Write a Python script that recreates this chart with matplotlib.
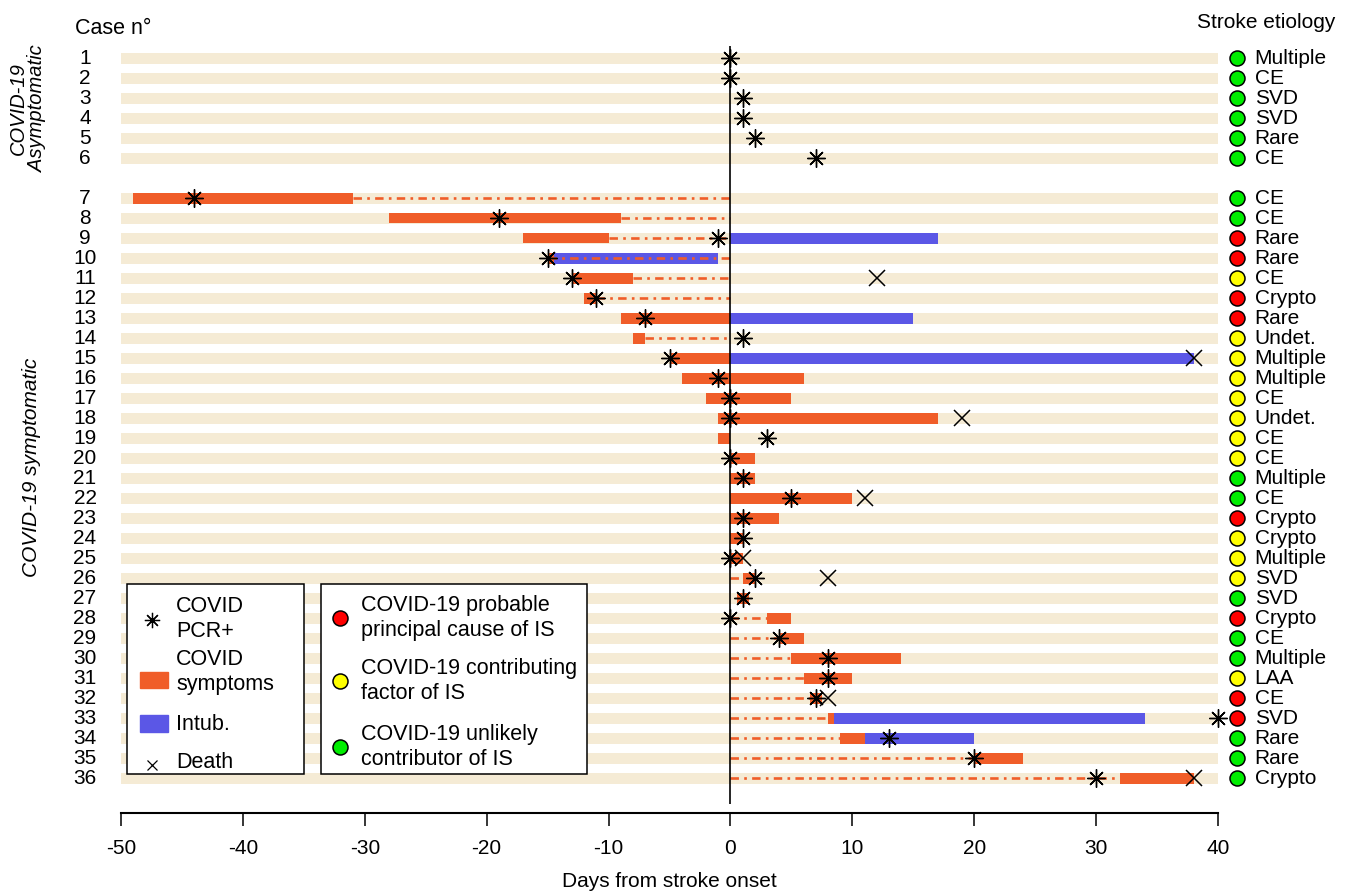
import matplotlib
matplotlib.use('Agg')
import matplotlib.pyplot as plt
from matplotlib.patches import Rectangle
from matplotlib.lines import Line2D

plt.rcParams['font.family'] = ['Liberation Sans', 'DejaVu Sans']
plt.rcParams['axes.unicode_minus'] = False

# ---- data ----
cases = list(range(1, 37))

pcr_day = [0, 0, 1, 1, 2, 7,
           -44, -19, -1, -15, -13, -11, -7, 1, -5, -1, 0, 0, 3, 0, 1, 5, 1, 1, 0,
           2, 1, 0, 4, 8, 8, 7, 40, 13, 20, 30]

symptom_case = [7, 8, 9, 10, 11, 12, 13, 14, 15, 16, 17, 18, 19, 20, 21, 22, 23, 24, 25,
                26, 27, 28, 29, 30, 31, 32, 33, 34, 35, 36]
symptom_start = [-49, -28, -17, -15, -13, -12, -9, -8, -5, -4, -2, -1, -1, 0, 0, 0, 0, 0, 0,
                 1, 0.5, 3, 4, 5, 6, 6.5, 8, 9, 20, 32]
symptom_end = [-31, -9, -10, -14.5, -8, -11, 0, -7, 0, 6, 5, 17, 0, 2, 2, 10, 4, 1, 1,
               2, 1.5, 5, 6, 14, 10, 7.5, 8.5, 11, 24, 38]

intub_case = [9, 10, 13, 15, 33, 34]
intub_start = [0, -14.5, 0, 0, 8.5, 11]
intub_end = [17, -1, 15, 38, 34, 20]

gap_case = [7, 8, 9, 10, 11, 12, 14, 26, 28, 29, 30, 31, 32, 33, 34, 35, 36]
gap_start = [-31, -9, -10, -15, -8, -11, -7, 0, 0, 0, 0, 0, 0, 0, 0, 0, 0]
gap_end = [0, 0, 0, 0, 0, 0, 0, 1, 3, 4, 5, 6, 7, 8, 9, 20, 32]

death_case = [11, 15, 18, 22, 25, 26, 32, 36]
death_day = [12, 38, 19, 11, 1, 8, 8, 38]

etiology = ['Multiple', 'CE', 'SVD', 'SVD', 'Rare', 'CE',
            'CE', 'CE', 'Rare', 'Rare', 'CE', 'Crypto', 'Rare', 'Undet.', 'Multiple',
            'Multiple', 'CE', 'Undet.', 'CE', 'CE', 'Multiple', 'CE', 'Crypto', 'Crypto',
            'Multiple', 'SVD', 'SVD', 'Crypto', 'CE', 'Multiple', 'LAA', 'CE', 'SVD',
            'Rare', 'Rare', 'Crypto']
role = ['U', 'U', 'U', 'U', 'U', 'U',
        'U', 'U', 'P', 'P', 'C', 'P', 'P', 'C', 'C',
        'C', 'C', 'C', 'C', 'C', 'U', 'U', 'P', 'C',
        'C', 'C', 'U', 'P', 'U', 'U', 'C', 'P', 'P',
        'U', 'U', 'U']

role_color = {'P': '#ff0000', 'C': '#ffff00', 'U': '#00ee00'}
role_text = {'P': 'COVID-19 probable\nprincipal cause of IS',
             'C': 'COVID-19 contributing\nfactor of IS',
             'U': 'COVID-19 unlikely\ncontributor of IS'}

ORANGE = '#f05d29'
BLUE = '#5b57e6'
BEIGE = '#f5ebd5'
FS = 15


def row(c):
    # one blank row between asymptomatic and symptomatic cases
    return c - 1 if c <= 6 else c


fig = plt.figure(figsize=(13.54, 8.91), dpi=100)
W, H = 1354, 891
x0, x1 = 121, 1218
ax = fig.add_axes([x0 / W, (H - 813) / H, (x1 - x0) / W, 813 / H])
ax.set_xlim(-50, 40)
ax.set_ylim(37.75, -2.9)

ys = [row(c) for c in cases]
ax.barh(ys, 90, left=-50, height=0.55, color=BEIGE, zorder=1)

ax.barh([row(c) for c in symptom_case],
        [e - s for s, e in zip(symptom_start, symptom_end)],
        left=symptom_start, height=0.55, color=ORANGE, zorder=2)
ax.barh([row(c) for c in intub_case],
        [e - s for s, e in zip(intub_start, intub_end)],
        left=intub_start, height=0.55, color=BLUE, zorder=2)

for c, s, e in zip(gap_case, gap_start, gap_end):
    ax.plot([s, e], [row(c), row(c)], color=ORANGE, lw=1.9,
            dashes=(3.2, 2, 1, 2), zorder=3)

ax.vlines(0, -0.6, 37.3, color='black', lw=1.2, zorder=4)

ax.plot(pcr_day, ys, linestyle='none', marker=(8, 2, 0), markersize=13,
        markeredgewidth=1.0, color='black', zorder=5, clip_on=False)
ax.plot(death_day, [row(c) for c in death_case], linestyle='none', marker='x',
        markersize=11, markeredgewidth=1.1, color='black', zorder=5, clip_on=False)

# etiology circles and labels
for c, et, r in zip(cases, etiology, role):
    ax.plot(41.55, row(c), marker='o', markersize=10.8, markerfacecolor=role_color[r],
            markeredgecolor='black', markeredgewidth=1.1, clip_on=False, zorder=5)
    ax.text(43.0, row(c), et, fontsize=FS, ha='left', va='center')
    ax.text(-52.95, row(c), str(c), fontsize=FS, ha='center', va='center')

ax.text(-53.8, -1.5, 'Case n°', fontsize=FS + 0.5, ha='left', va='center')
ax.text(38.3, -1.75, 'Stroke etiology', fontsize=FS, ha='left', va='center')

for side in ['left', 'right', 'top']:
    ax.spines[side].set_visible(False)
ax.spines['bottom'].set_linewidth(1.5)
ax.set_yticks([])
ax.set_xticks(range(-50, 41, 10))
ax.tick_params(axis='x', length=9, width=1.1, pad=10, labelsize=FS)
ax.set_xlabel('Days from stroke onset', fontsize=FS, labelpad=10)

# overlay in pixel coordinates for side titles and legends
ov = fig.add_axes([0, 0, 1, 1], zorder=10)
ov.set_xlim(0, W)
ov.set_ylim(H, 0)
ov.axis('off')
ov.patch.set_alpha(0)

ov.text(28, 109, 'COVID-19\nAsymptomatic', rotation=90, style='italic', fontsize=FS - 0.5,
        ha='center', va='center', linespacing=1.05)
ov.text(32, 467, 'COVID-19 symptomatic', rotation=90, style='italic', fontsize=FS,
        ha='center', va='center')

ov.add_patch(Rectangle((127, 584), 177, 190, facecolor='white', edgecolor='black', lw=1.1))
ov.add_patch(Rectangle((321, 584), 266, 190, facecolor='white', edgecolor='black', lw=1.1))

ov.add_line(Line2D([152], [620], marker=(8, 2, 0), markersize=11, markeredgewidth=0.9,
                   color='black', linestyle='none'))
ov.text(176, 619, 'COVID\nPCR+', fontsize=FS + 0.5, va='center', linespacing=1.25)
ov.add_patch(Rectangle((140, 672), 28, 16, color=ORANGE))
ov.text(176, 672, 'COVID\nsymptoms', fontsize=FS + 0.5, va='center', linespacing=1.25)
ov.add_patch(Rectangle((140, 715), 28, 17, color=BLUE))
ov.text(176, 724, 'Intub.', fontsize=FS + 0.5, va='center')
ov.add_line(Line2D([152], [765], marker='x', markersize=7, markeredgewidth=0.9,
                   color='black', linestyle='none'))
ov.text(176, 762, 'Death', fontsize=FS + 0.5, va='center')

for k, yy in zip(['P', 'C', 'U'], [618, 681, 747]):
    ov.add_line(Line2D([340], [yy], marker='o', markersize=10.8,
                       markerfacecolor=role_color[k], markeredgecolor='black',
                       markeredgewidth=1.1, linestyle='none'))
    ov.text(361, yy, role_text[k], fontsize=FS + 0.5, va='center', linespacing=1.25)

fig.savefig('out.png', dpi=100)
